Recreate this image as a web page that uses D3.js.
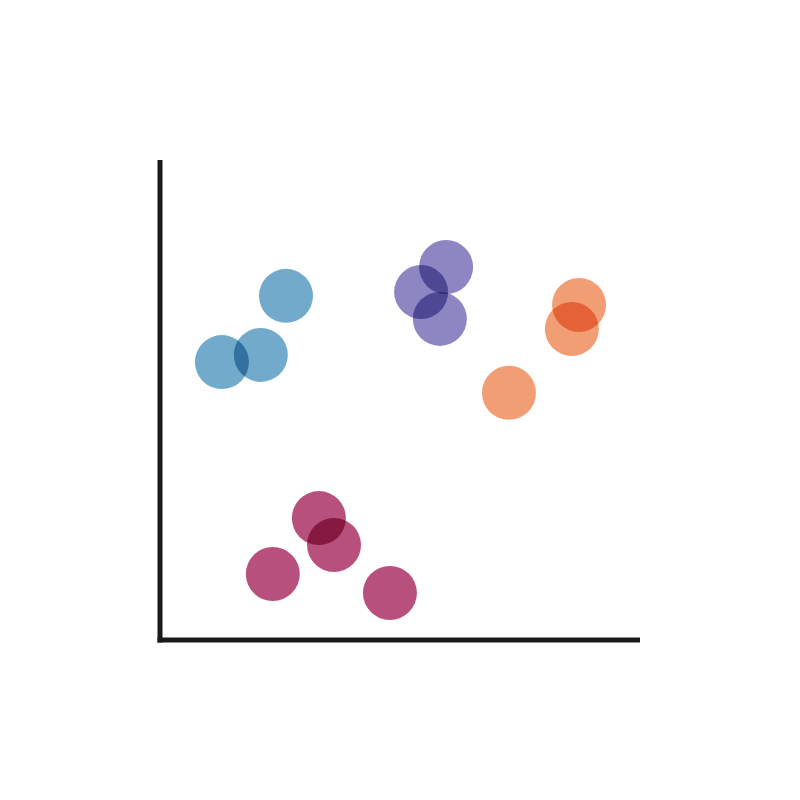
<!DOCTYPE html>
<html>
<head>
<meta charset="utf-8">
<script src="https://cdn.jsdelivr.net/npm/d3@7"></script>
<style>
html,body{margin:0;padding:0;background:#fff;}
svg{display:block;}
circle{mix-blend-mode:multiply;}
</style>
</head>
<body>
<svg id="chart" width="800" height="800"></svg>
<script>
const groups = ["blue", "purple", "orange", "magenta"];
const xValues = [26.25, 12.9, 21.0, 59.6, 54.4, 58.3, 87.3, 85.8, 72.7, 33.1, 36.25, 23.5, 47.9];
const yValues = [71.7, 57.9, 59.4, 77.7, 72.5, 66.9, 69.8, 64.8, 51.5, 25.4, 19.8, 13.75, 9.8];
const groupOf = ["blue","blue","blue","purple","purple","purple","orange","orange","orange","magenta","magenta","magenta","magenta"];
const colors = ["#72aacb", "#8d86c2", "#f29e75", "#b8507e"];

const data = xValues.map((x, i) => ({x, y: yValues[i], g: groupOf[i]}));

const svg = d3.select("#chart");
const margin = {left:160, top:160, right:160, bottom:160};
const W = 800, H = 800;
const x = d3.scaleLinear().domain([0,100]).range([margin.left, W - margin.right]);
const y = d3.scaleLinear().domain([0,100]).range([H - margin.bottom, margin.top]);
const color = d3.scaleOrdinal().domain(groups).range(colors);

svg.append("g").selectAll("circle").data(data).join("circle")
  .attr("cx", d => x(d.x))
  .attr("cy", d => y(d.y))
  .attr("r", 27)
  .attr("fill", d => color(d.g));

const axisColor = "#1a1a1a";
svg.append("line")
  .attr("x1", x(0)).attr("x2", x(0))
  .attr("y1", y(100)).attr("y2", y(0) + 2.5)
  .attr("stroke", axisColor).attr("stroke-width", 5);
svg.append("line")
  .attr("x1", x(0) - 2.5).attr("x2", x(100))
  .attr("y1", y(0)).attr("y2", y(0))
  .attr("stroke", axisColor).attr("stroke-width", 5);
</script>
</body>
</html>
